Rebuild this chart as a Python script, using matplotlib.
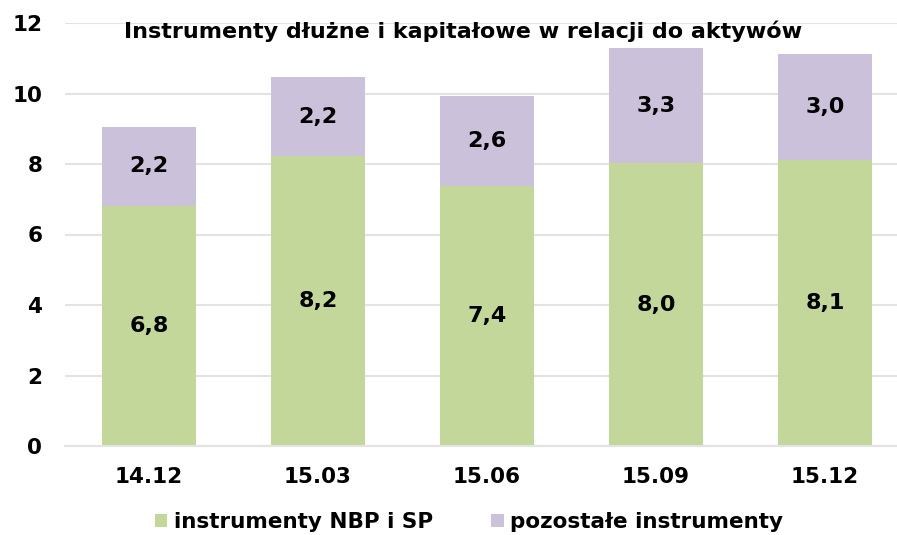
import matplotlib
matplotlib.use("Agg")
import matplotlib.pyplot as plt
from matplotlib.patches import Patch

categories = ["14.12", "15.03", "15.06", "15.09", "15.12"]
nbp_sp = [6.81, 8.22, 7.38, 8.02, 8.10]
pozostale = [2.24, 2.24, 2.56, 3.26, 3.02]
series_names = ["instrumenty NBP i SP", "pozostałe instrumenty"]
title = "Instrumenty dłużne i kapitałowe w relacji do aktywów"
yticks = [0, 2, 4, 6, 8, 10, 12]

green = "#c4d79b"
purple = "#ccc1da"

plt.rcParams['font.family'] = ['DejaVu Sans']
fig = plt.figure(figsize=(8.97, 5.35), dpi=100)
W, H = 897, 535
left, right = 64.5, 897
top, bottom = 23, 446
ax = fig.add_axes([left / W, 1 - bottom / H, (right - left) / W, (bottom - top) / H])

x = list(range(len(categories)))
spacing = 169.0
xr = -0.5 + (right - left) / spacing
ax.set_xlim(-0.5, xr)
ax.set_ylim(0, 12)

bw = 94 / spacing
ax.bar(x, nbp_sp, width=bw, color=green, zorder=2)
ax.bar(x, pozostale, width=bw, bottom=nbp_sp, color=purple, zorder=2)

for i in x:
    ax.text(i, nbp_sp[i] / 2, f"{nbp_sp[i]:.1f}".replace(".", ","), ha="center", va="center",
            fontsize=16, fontweight="bold", color="black", zorder=3)
    ax.text(i, nbp_sp[i] + pozostale[i] / 2, f"{pozostale[i]:.1f}".replace(".", ","), ha="center",
            va="center", fontsize=16, fontweight="bold", color="black", zorder=3)

ax.set_yticks(yticks)
ax.set_yticklabels([str(v) for v in yticks], fontsize=15.5, fontweight="bold")
ax.set_xticks(x)
ax.set_xticklabels(categories, fontsize=15.5, fontweight="bold")
ax.tick_params(axis="both", length=0)
ax.tick_params(axis="y", pad=16)
ax.tick_params(axis="x", pad=15)
ax.yaxis.grid(True, color="#e3e3e3", linewidth=1.5, zorder=0)
for s in ["top", "right", "left"]:
    ax.spines[s].set_visible(False)
ax.spines["bottom"].set_color("#e3e3e3")
ax.spines["bottom"].set_linewidth(1.5)

fig.text(463.5 / W, 1 - 31 / H, title, ha="center", va="center", fontsize=16, fontweight="bold")

handles = [Patch(facecolor=green), Patch(facecolor=purple)]
fig.legend(handles, series_names, loc="center", bbox_to_anchor=(469 / W, 1 - 522 / H), ncol=2,
           frameon=False, prop={"size": 15.5, "weight": "bold"}, handlelength=0.6, handleheight=0.6,
           handletextpad=0.3, columnspacing=2.7)

fig.savefig("out.png", dpi=100)
